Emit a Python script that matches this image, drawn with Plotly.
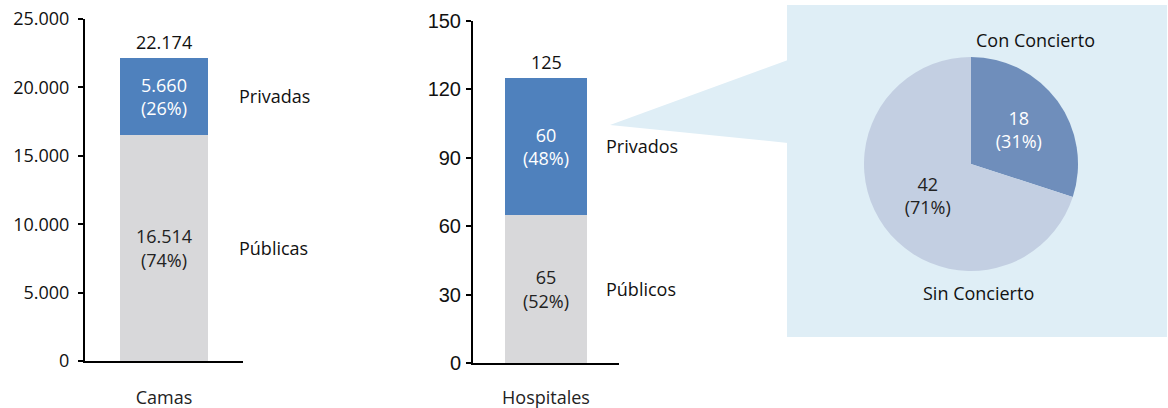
import plotly.graph_objects as go

W, H = 1168, 408

# ---- data ----
camas_cat = ["Camas"]
camas_publicas = [16514]
camas_privadas = [5660]
camas_pub_txt = ["16.514<br>(74%)"]
camas_priv_txt = ["5.660<br>(26%)"]
camas_total_txt = ["22.174"]
camas_series = ["Públicas", "Privadas"]

hosp_cat = ["Hospitales"]
hosp_publicos = [65]
hosp_privados = [60]
hosp_pub_txt = ["65<br>(52%)"]
hosp_priv_txt = ["60<br>(48%)"]
hosp_total_txt = ["125"]
hosp_series = ["Públicos", "Privados"]

pie_labels = ["Con Concierto", "Sin Concierto"]
pie_values = [18, 42]
pie_text = ["18<br>(31%)", "42<br>(71%)"]

camas_ticks = [0, 5000, 10000, 15000, 20000, 25000]
camas_ticktext = ["0", "5.000", "10.000", "15.000", "20.000", "25.000"]
hosp_ticks = [0, 30, 60, 90, 120, 150]

# ---- style ----
BLUE = "#4F81BD"
GREY = "#D8D8DA"
PANEL = "#DFEEF6"
FONT = "Open Sans, Noto Sans, sans-serif"
ARIAL = "Liberation Sans, Arial, sans-serif"
FS = 18
TXT = "#111111"


def px(x):
    return x / W


def py(y):
    return 1 - y / H


fig = go.Figure()

# Camas stacked bar
fig.add_trace(go.Bar(x=camas_cat, y=camas_publicas, text=camas_pub_txt, marker_color=GREY,
                     textposition="inside", insidetextanchor="middle",
                     textfont=dict(family=FONT, size=FS, color="#222222"),
                     width=0.557, xaxis="x", yaxis="y", showlegend=False, hoverinfo="skip"))
fig.add_trace(go.Bar(x=camas_cat, y=camas_privadas, text=camas_priv_txt, marker_color=BLUE,
                     textposition="inside", insidetextanchor="middle",
                     textfont=dict(family=FONT, size=FS, color="white"),
                     width=0.557, xaxis="x", yaxis="y", showlegend=False, hoverinfo="skip"))

# Hospitales stacked bar
fig.add_trace(go.Bar(x=hosp_cat, y=hosp_publicos, text=hosp_pub_txt, marker_color=GREY,
                     textposition="inside", insidetextanchor="middle",
                     textfont=dict(family=FONT, size=FS, color="#222222"),
                     width=0.568, xaxis="x2", yaxis="y2", showlegend=False, hoverinfo="skip"))
fig.add_trace(go.Bar(x=hosp_cat, y=hosp_privados, text=hosp_priv_txt, marker_color=BLUE,
                     textposition="inside", insidetextanchor="middle",
                     textfont=dict(family=FONT, size=FS, color="white"),
                     width=0.568, xaxis="x2", yaxis="y2", showlegend=False, hoverinfo="skip"))

# Pie
fig.add_trace(go.Pie(labels=pie_labels, values=pie_values, text=pie_text, textinfo="text",
                     textposition="inside", insidetextorientation="horizontal",
                     sort=False, direction="clockwise", rotation=0,
                     marker=dict(colors=["#6F8EBB", "#C3CFE2"], line=dict(width=0)),
                     textfont=dict(family=FONT, size=FS, color=["white", "#222222"]),
                     domain=dict(x=[px(864), px(1078)], y=[py(271), py(57)]),
                     showlegend=False, hoverinfo="skip"))

axis_common = dict(showline=True, linecolor="black", linewidth=2, showgrid=False, zeroline=False,
                   ticks="outside", ticklen=5, tickwidth=2, tickcolor="black", automargin=False)
xaxis_common = dict(range=[-0.5, 0.5], showline=True, linecolor="black", linewidth=2, ticks="",
                    showgrid=False, zeroline=False, automargin=False,
                    tickfont=dict(family=FONT, size=FS, color="#222222"))

fig.update_layout(
    template="none",
    width=W, height=H, margin=dict(l=0, r=0, t=0, b=0, pad=0),
    paper_bgcolor="white", plot_bgcolor="rgba(0,0,0,0)",
    barmode="stack", bargap=0,
    xaxis=dict(domain=[px(85), px(243)], anchor="y", ticklabelstandoff=19, **xaxis_common),
    yaxis=dict(domain=[py(361), py(19)], range=[0, 25000], tickvals=camas_ticks,
               ticktext=camas_ticktext, tickfont=dict(family=FONT, size=FS, color=TXT),
               ticklabelstandoff=5, anchor="x", **axis_common),
    xaxis2=dict(domain=[px(473), px(619)], anchor="y2", ticklabelstandoff=17, **xaxis_common),
    yaxis2=dict(domain=[py(363), py(21)], range=[0, 150], tickvals=hosp_ticks,
                tickfont=dict(family=ARIAL, size=20, color=TXT), ticklabelstandoff=1,
                anchor="x2", **axis_common),
)

# Panel and callout
fig.add_shape(type="rect", xref="paper", yref="paper", x0=px(787), x1=px(1167), y0=py(337), y1=py(5),
              fillcolor=PANEL, line=dict(width=0), layer="below")
fig.add_shape(type="path", xref="paper", yref="paper",
              path=f"M {px(610)} {py(125)} L {px(788)} {py(60)} L {px(788)} {py(143)} Z",
              fillcolor=PANEL, line=dict(width=0), layer="below")

# Totals
fig.add_annotation(x=camas_cat[0], y=camas_publicas[0] + camas_privadas[0], xref="x", yref="y",
                   text=camas_total_txt[0], showarrow=False, yanchor="bottom", yshift=2,
                   font=dict(family=FONT, size=FS, color=TXT))
fig.add_annotation(x=hosp_cat[0], y=hosp_publicos[0] + hosp_privados[0], xref="x2", yref="y2",
                   text=hosp_total_txt[0], showarrow=False, yanchor="bottom", yshift=2,
                   font=dict(family=FONT, size=FS, color=TXT))

# Series side labels
fig.add_annotation(x=0.465, y=camas_publicas[0] / 2, xref="x", yref="y", text=camas_series[0],
                   showarrow=False, xanchor="left", font=dict(family=FONT, size=FS, color=TXT))
fig.add_annotation(x=0.465, y=camas_publicas[0] + camas_privadas[0] / 2, xref="x", yref="y",
                   text=camas_series[1], showarrow=False, xanchor="left",
                   font=dict(family=FONT, size=FS, color=TXT))
fig.add_annotation(x=0.40, y=hosp_publicos[0] / 2, xref="x2", yref="y2", text=hosp_series[0],
                   showarrow=False, xanchor="left", font=dict(family=FONT, size=FS, color=TXT))
fig.add_annotation(x=0.40, y=hosp_publicos[0] + hosp_privados[0] / 2, xref="x2", yref="y2",
                   text=hosp_series[1], showarrow=False, xanchor="left",
                   font=dict(family=FONT, size=FS, color=TXT))

# Pie outer labels
fig.add_annotation(x=px(1035), y=py(40), xref="paper", yref="paper", text=pie_labels[0],
                   showarrow=False, xanchor="center", yanchor="middle",
                   font=dict(family=FONT, size=FS, color=TXT))
fig.add_annotation(x=px(978), y=py(293), xref="paper", yref="paper", text=pie_labels[1],
                   showarrow=False, xanchor="center", yanchor="middle",
                   font=dict(family=FONT, size=FS, color=TXT))

fig.write_html("out.html", config={"displayModeBar": False},
               post_script="document.body.style.margin='0px';document.body.style.overflow='hidden';")
